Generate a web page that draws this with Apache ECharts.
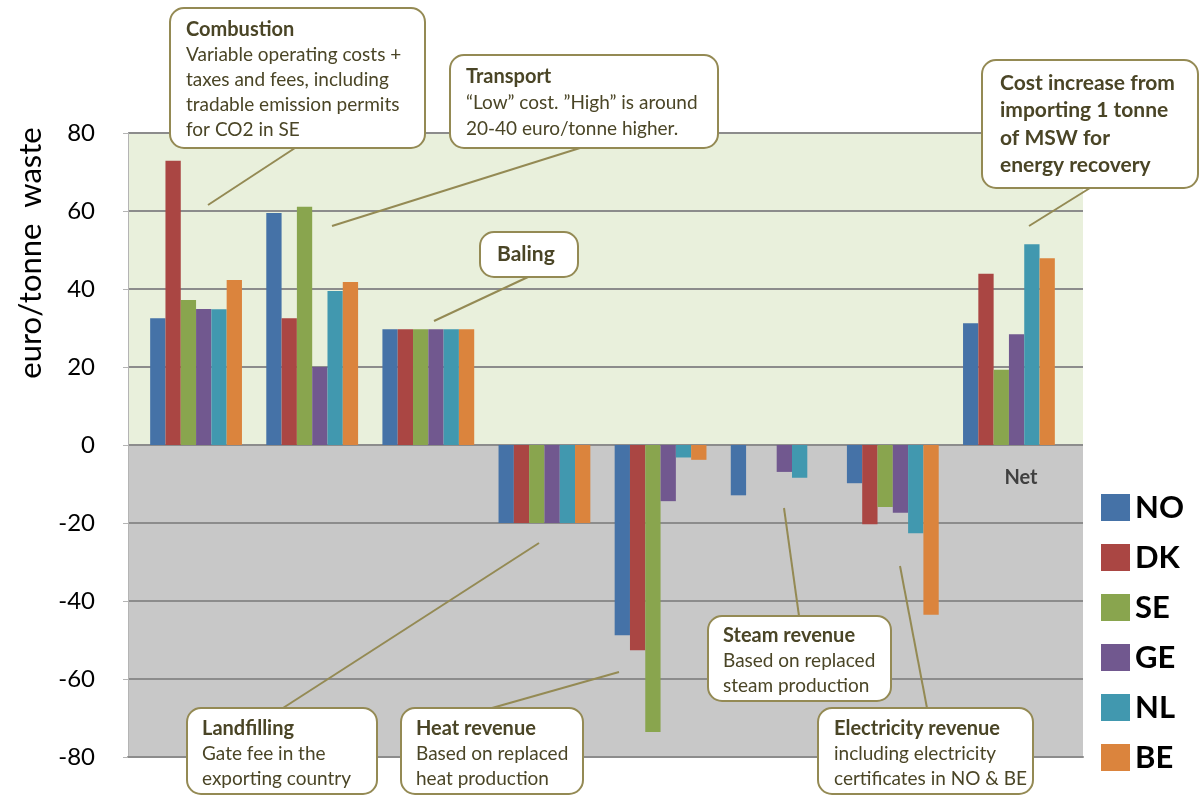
<!DOCTYPE html>
<html>
<head>
<meta charset="utf-8">
<title>Cost of importing MSW</title>
<script src="https://cdn.jsdelivr.net/npm/echarts@6/dist/echarts.min.js"></script>
<style>
  html, body { margin: 0; padding: 0; background: #fff; }
  #chart { width: 1200px; height: 796px; }
</style>
</head>
<body>
<div id="chart"></div>
<script>
// categories along the x axis (only "Net" is printed, the rest are labelled by callouts)
var categories = ['Combustion', 'Transport', 'Baling', 'Landfilling', 'Heat revenue', 'Steam revenue', 'Electricity revenue', 'Net'];
var countries = ['NO', 'DK', 'SE', 'GE', 'NL', 'BE'];

// euro/tonne waste
var valuesNO = [32.5, 59.5, 29.7, -20, -48.8, -12.9, -9.8, 31.2];
var valuesDK = [72.9, 32.5, 29.7, -20, -52.6, 0, -20.3, 43.9];
var valuesSE = [37.2, 61.1, 29.7, -20, -73.6, 0, -15.9, 19.3];
var valuesGE = [34.9, 20.0, 29.7, -20, -14.4, -6.9, -17.4, 28.4];
var valuesNL = [34.8, 39.5, 29.7, -20, -3.2, -8.4, -22.6, 51.5];
var valuesBE = [42.3, 41.8, 29.7, -20, -3.8, 0, -43.5, 47.9];

var yMin = -80, yMax = 80, yStep = 20;

var colors = ['#4572a7', '#aa4643', '#89a54e', '#71588f', '#4198af', '#db843d'];
var seriesValues = [valuesNO, valuesDK, valuesSE, valuesGE, valuesNL, valuesBE];

var FONT = 'Lato, "Open Sans", sans-serif';
var boxLine = '#948a54';
var boxText = '#4a4526';

var chart = echarts.init(document.getElementById('chart'));

function leaderAndBox(rect, leader) {
  return [
    {
      type: 'line', z: 10,
      shape: { x1: leader[0], y1: leader[1], x2: leader[2], y2: leader[3] },
      style: { stroke: boxLine, lineWidth: 2 }
    },
    {
      type: 'rect', z: 11,
      shape: { x: rect[0], y: rect[1], width: rect[2], height: rect[3], r: 14 },
      style: { fill: '#fff', stroke: boxLine, lineWidth: 2 }
    }
  ];
}

// callout box: bold title line + plain body lines
function callout(rect, textPos, title, body, leader, lh) {
  var txt = '{t|' + title + '}';
  for (var i = 0; i < body.length; i++) {
    txt += '\n{b|' + body[i] + '}';
  }
  return leaderAndBox(rect, leader).concat([{
    type: 'text', z: 12, x: textPos[0], y: textPos[1],
    style: {
      text: txt,
      verticalAlign: 'top',
      rich: {
        t: { fontFamily: FONT, fontSize: 20, fontWeight: 'bold', fill: boxText, lineHeight: lh },
        b: { fontFamily: FONT, fontSize: 19, fill: boxText, lineHeight: lh }
      }
    }
  }]);
}

// callout with all lines bold
function boldCallout(rect, textPos, lines, leader, lh) {
  return leaderAndBox(rect, leader).concat([{
    type: 'text', z: 12, x: textPos[0], y: textPos[1],
    style: {
      text: lines.join('\n'),
      verticalAlign: 'top',
      fontFamily: FONT, fontSize: 21, fontWeight: 'bold', fill: boxText, lineHeight: lh
    }
  }]);
}

var graphics = [].concat(
  callout([170, 8, 255, 140], [186, 17], 'Combustion',
    ['Variable operating costs +', 'taxes and fees, including', 'tradable emission permits', 'for CO2 in SE'],
    [295, 148, 208, 205], 25),
  callout([450, 55, 268, 93], [466, 64], 'Transport',
    ['\u201cLow\u201d cost. \u201dHigh\u201d is around', '20-40 euro/tonne higher.'],
    [580, 148, 332, 226], 26),
  boldCallout([480, 232, 98, 45], [497, 243], ['Baling'], [528, 277, 434, 321], 22),
  boldCallout([982, 60, 216, 128], [1000, 69], ['Cost increase from', 'importing 1 tonne', 'of MSW for', 'energy recovery'],
    [1090, 188, 1029, 226], 27.5),
  callout([187, 708, 190, 86], [202, 716], 'Landfilling',
    ['Gate fee in the', 'exporting country'],
    [283, 708, 539, 543], 25),
  callout([401, 708, 182, 86], [416, 716], 'Heat revenue',
    ['Based on replaced', 'heat production'],
    [492, 708, 619, 672], 25),
  callout([708, 616, 183, 85], [723, 623], 'Steam revenue',
    ['Based on replaced', 'steam production'],
    [799, 616, 784, 508], 25),
  callout([818, 708, 215, 86], [834, 716], 'Electricity revenue',
    ['including electricity', 'certificates in NO & BE'],
    [927, 708, 900, 566], 25)
);

// y axis name sits high on the left, not centred on the axis
graphics.push({
  type: 'text', x: 31, y: 253, rotation: Math.PI / 2, z: 10,
  style: {
    text: 'euro/tonne  waste', fontFamily: FONT, fontSize: 31, fill: '#000',
    align: 'center', verticalAlign: 'middle'
  }
});

// category label of the last group, printed just under the zero line
graphics.push({
  type: 'text', x: 1021, y: 478, z: 10,
  style: {
    text: categories[7], fontFamily: FONT, fontSize: 20, fontWeight: 'bold', fill: '#404040',
    align: 'center', verticalAlign: 'middle'
  }
});

var series = [];
for (var i = 0; i < countries.length; i++) {
  series.push({
    name: countries[i],
    type: 'bar',
    xAxisIndex: 1,
    yAxisIndex: 1,
    barWidth: 15.3,
    barGap: '0%',
    itemStyle: { color: colors[i] },
    data: seriesValues[i]
  });
}

var areaColors = [];
for (var v = yMin; v < yMax; v += yStep) {
  areaColors.push(v < 0 ? '#c8c8c8' : '#e9f0dc');
}

chart.setOption({
  animation: false,
  color: colors,
  textStyle: { fontFamily: FONT },
  grid: [
    { left: 128, right: 117, top: 133, bottom: 39 },  // background, gridlines, y labels
    { left: 138, right: 133, top: 133, bottom: 39 }   // bars
  ],
  legend: {
    data: countries,
    orient: 'vertical',
    left: 1096,
    top: 487,
    icon: 'rect',
    itemWidth: 29,
    itemHeight: 27,
    itemGap: 19,
    textStyle: { fontFamily: FONT, fontSize: 31, fontWeight: 'bold', color: '#000', lineHeight: 27 }
  },
  xAxis: [
    {
      type: 'category', gridIndex: 0, data: categories,
      axisLine: { onZero: false, lineStyle: { color: '#8c8c8c', width: 2 } },
      axisTick: { show: false },
      axisLabel: { show: false }
    },
    {
      type: 'category', gridIndex: 1, data: categories, show: false
    }
  ],
  yAxis: [
    {
      type: 'value', gridIndex: 0, min: yMin, max: yMax, interval: yStep,
      axisLine: { show: true, lineStyle: { color: '#b4b4b4', width: 1 } },
      axisTick: { show: true, length: 5, lineStyle: { color: '#b4b4b4' } },
      axisLabel: { fontSize: 24, color: '#000', margin: 33 },
      splitLine: { show: true, lineStyle: { color: '#8c8c8c', width: 2 } },
      splitArea: { show: true, areaStyle: { color: areaColors } }
    },
    {
      type: 'value', gridIndex: 1, min: yMin, max: yMax, interval: yStep, show: false,
      splitLine: { show: false }
    }
  ],
  graphic: graphics,
  series: series
});
</script>
</body>
</html>
